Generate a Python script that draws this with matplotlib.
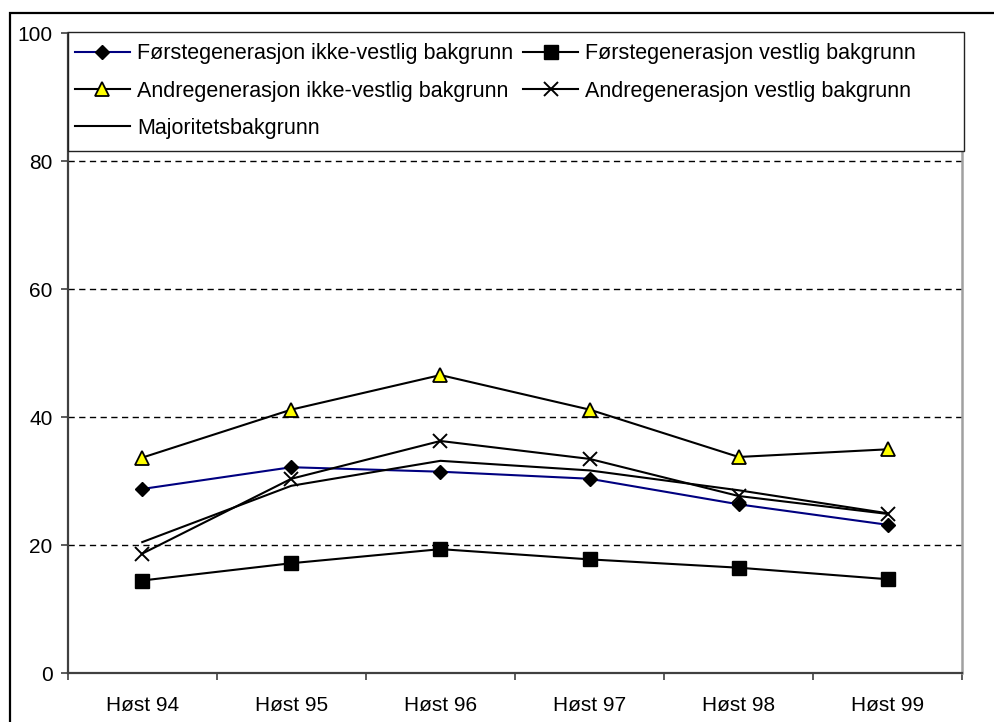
import matplotlib
matplotlib.use("Agg")
import matplotlib.pyplot as plt
from matplotlib.patches import Rectangle

plt.rcParams['font.family'] = ['Liberation Sans', 'DejaVu Sans']

categories = ["Høst 94", "Høst 95", "Høst 96", "Høst 97", "Høst 98", "Høst 99"]
forste_ikke_vestlig = [28.8, 32.2, 31.5, 30.4, 26.4, 23.2]
forste_vestlig = [14.5, 17.2, 19.4, 17.8, 16.5, 14.7]
andre_ikke_vestlig = [33.7, 41.2, 46.6, 41.2, 33.8, 35.0]
andre_vestlig = [18.7, 30.4, 36.3, 33.5, 27.7, 24.9]
majoritet = [20.5, 29.3, 33.2, 31.7, 28.6, 25.0]
yticks = [0, 20, 40, 60, 80, 100]

W, H = 994, 722
fig = plt.figure(figsize=(W / 100, H / 100), dpi=100)

# outer chart border
fig.add_artist(Rectangle((10 / W, -0.05), 1.2, 1 - 13 / H + 0.05,
                         transform=fig.transFigure, fill=False,
                         edgecolor='black', linewidth=1.6))

left, right, top, bottom = 67.7, 962.3, 33.3, 673.3
ax = fig.add_axes([left / W, 1 - bottom / H, (right - left) / W, (bottom - top) / H])

fs = 15
lfs = 15.5
x = list(range(len(categories)))
lw = 1.5
l1, = ax.plot(x, forste_ikke_vestlig, color='#000080', lw=lw, marker='D',
              ms=7.6, mfc='black', mec='black', label='Førstegenerasjon ikke-vestlig bakgrunn')
l2, = ax.plot(x, forste_vestlig, color='black', lw=lw, marker='s',
              ms=10, mfc='black', mec='black', label='Førstegenerasjon vestlig bakgrunn')
l3, = ax.plot(x, andre_ikke_vestlig, color='black', lw=lw, marker='^',
              ms=9.6, mfc='#ffff00', mec='black', mew=1.3, label='Andregenerasjon ikke-vestlig bakgrunn')
l4, = ax.plot(x, andre_vestlig, color='black', lw=lw, marker='x',
              ms=10.5, mec='black', mew=1.4, label='Andregenerasjon vestlig bakgrunn')
l5, = ax.plot(x, majoritet, color='black', lw=lw, label='Majoritetsbakgrunn')

ax.set_xlim(-0.5, len(categories) - 0.5)
ax.set_ylim(0, 100)
ax.set_yticks(yticks)
ax.set_yticklabels([str(v) for v in yticks])
for v in yticks[1:-1]:
    ax.axhline(v, color='black', lw=1.0, dashes=(4.5, 3.2), zorder=0)

ax.set_xticks([i - 0.5 for i in range(len(categories) + 1)], minor=False)
ax.set_xticklabels([])
ax.set_xticks(x, minor=True)
ax.set_xticklabels(categories, minor=True)
ax.tick_params(axis='x', which='major', direction='out', length=5, width=1.2, color='#404040')
ax.tick_params(axis='x', which='minor', length=0, pad=16, labelsize=fs)
ax.tick_params(axis='y', direction='out', length=5, width=1.2, color='#404040', labelsize=fs, pad=6)

for s in ['left', 'bottom']:
    ax.spines[s].set_color('#404040')
    ax.spines[s].set_linewidth(1.6)
ax.spines['right'].set_color('#a0a0a0')
ax.spines['right'].set_linewidth(1.8)
ax.spines['top'].set_visible(False)

# legend frame
leg_l, leg_r, leg_t, leg_b = 67.7, 963.5, 31.7, 150.7
fig.add_artist(Rectangle((leg_l / W, 1 - leg_b / H), (leg_r - leg_l) / W, (leg_b - leg_t) / H,
                         transform=fig.transFigure, facecolor='white',
                         edgecolor='#222222', linewidth=1.0, zorder=5))

handles = [l1, l3, l5, l2, l4]
leg = fig.legend(handles=handles, labels=[h.get_label() for h in handles],
                 ncol=2, loc='upper left',
                 bbox_to_anchor=(75 / W, 1 - 43.5 / H),
                 fontsize=lfs, frameon=False,
                 handlelength=2.55, handletextpad=0.33, columnspacing=0.47,
                 labelspacing=0.75, borderpad=0, borderaxespad=0)
leg.set_zorder(6)

fig.savefig('out.png', dpi=100)
